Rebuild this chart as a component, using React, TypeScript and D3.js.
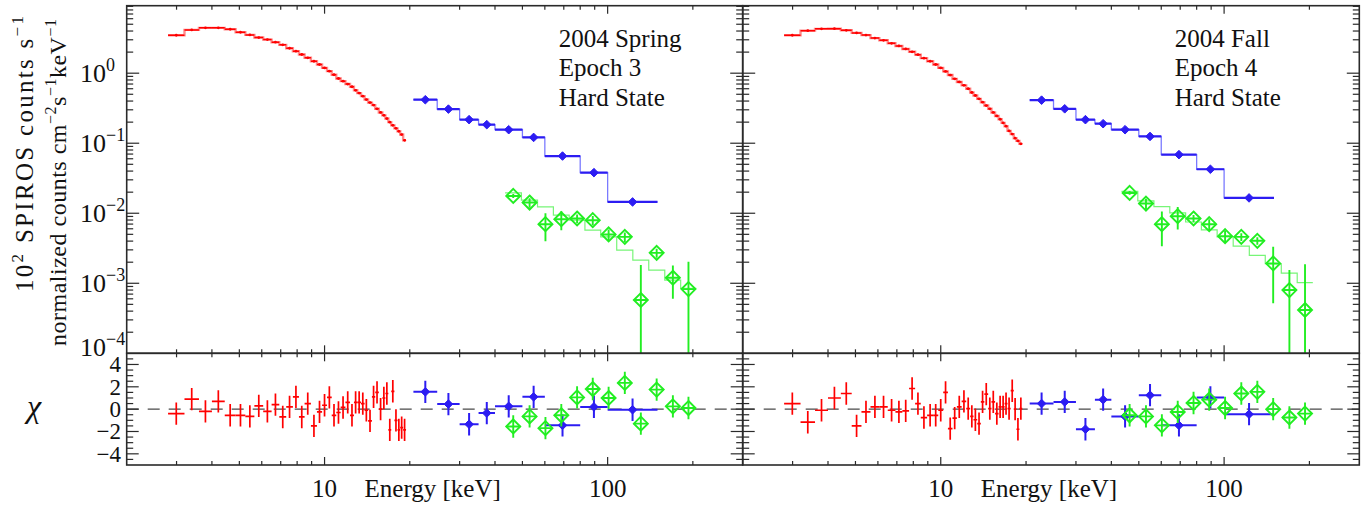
import React from 'react';
import * as d3 from 'd3';

// ---------------- DATA ----------------
// JEM-X-like (red) channel edges, keV
const redEdges = [2.8, 3.2, 3.6, 4.0, 4.44, 4.85, 5.25, 5.65, 6.07, 6.5, 6.92, 7.32, 7.73, 8.12, 8.5, 8.95, 9.4, 9.8, 10.2, 10.6, 11.0, 11.4, 11.85, 12.3, 12.7, 13.05, 13.45, 13.85, 14.25, 14.7, 15.1, 15.55, 16.0, 16.4, 16.8, 17.2, 17.65, 18.1, 18.5, 18.95, 19.4];
const redFluxSpring = [3.48, 4.15, 4.44, 4.44, 4.24, 3.84, 3.52, 3.23, 3.02, 2.77, 2.54, 2.27, 2.06, 1.85, 1.66, 1.48, 1.33, 1.19, 1.07, 0.95, 0.84, 0.77, 0.7, 0.64, 0.57, 0.52, 0.47, 0.42, 0.38, 0.35, 0.31, 0.275, 0.25, 0.225, 0.2, 0.18, 0.163, 0.148, 0.133, 0.11];
const redResSpring = [-0.4, 0.9, -0.2, 0.7, -0.55, -0.55, -0.65, 0.3, -0.2, 0.4, -0.7, 0.2, 1.1, -0.7, 0.5, -1.5, -0.25, 0.35, 1.05, -0.55, -0.3, 0.15, 0.6, -0.55, 0.6, 0.6, 0.5, -0.1, -1.05, 1.1, 1.5, 0, 1.0, 1.4, -1.85, 1.6, -1.0, -1.85, -1.65, -1.85];
const redFluxFall = [3.48, 4.05, 4.3, 4.32, 4.1, 3.76, 3.5, 3.17, 2.95, 2.67, 2.45, 2.22, 2.02, 1.84, 1.64, 1.48, 1.33, 1.19, 1.06, 0.94, 0.83, 0.75, 0.67, 0.6, 0.53, 0.48, 0.43, 0.385, 0.345, 0.31, 0.275, 0.245, 0.22, 0.195, 0.175, 0.15, 0.135, 0.118, 0.108, 0.098];
const redResFall = [0.5, -1.17, -0.1, 1.0, 1.4, -1.5, -0.25, 0.2, 0.2, -0.1, -0.25, -0.15, 1.85, 0.5, -0.75, -0.55, -0.55, -0.1, 1.5, -1.75, -0.8, 0.2, 0.7, 0.05, -0.65, -0.95, -1.3, 0.65, 1.35, 0.05, 0.65, -0.4, 0.2, 0.2, 0.5, 0.05, 1.65, 0, -1.8, 0.05];

// ISGRI-like (blue) bin edges, keV
const blueEdges = [20.6, 25, 30, 35, 40, 50, 60, 80, 100, 150];
const blueFluxSpring = [0.418, 0.307, 0.217, 0.184, 0.156, 0.121, 0.0656, 0.038, 0.0145];
const blueResSpring = [1.55, 0.45, -1.35, -0.35, 0.25, 1.1, -1.45, 0.2, -0.05];
const blueFluxFall = [0.412, 0.31, 0.217, 0.19, 0.156, 0.125, 0.0687, 0.0425, 0.01655];
const blueResFall = [0.5, 0.65, -1.8, 0.85, -0.65, 1.25, -1.45, 1.05, -0.45];

// SPI-like (green) channel centres, keV
const greenEnergy = [46.4, 53, 60.3, 68.6, 78, 88.6, 100.8, 115, 131, 149, 170, 193];
const greenFluxSpring = [0.01766, 0.01422, 0.00698, 0.00822, 0.00841, 0.00796, 0.00498, 0.0046, 0.000577, 0.00272, 0.0012, 0.000826];
const greenErrSpring = [0.0012, 0.0022, 0.003, 0.0025, 0.0012, 0.0012, 0.0009, 0.0007, 0.00124, 0.0004, 0.0006, 0.0012];
const greenModelSpring = [0.0195, 0.01535, 0.0123, 0.00937, 0.00795, 0.00573, 0.0046, 0.00297, 0.00214, 0.00154, 0.00111, 0.000845];
const greenResSpring = [-1.55, -0.65, -1.7, -0.55, 1.05, 1.8, 1.0, 2.35, -1.3, 1.75, 0.25, 0.1];
const greenFluxFall = [0.0195, 0.01375, 0.00698, 0.00908, 0.00841, 0.00698, 0.00471, 0.0046, 0.00404, 0.00192, 0.0008, 0.000415];
const greenErrFall = [0.0012, 0.0024, 0.0036, 0.0032, 0.001, 0.0012, 0.0009, 0.0006, 0.0005, 0.0014, 0.00075, 0.00145];
const greenModelFall = [0.0205, 0.015, 0.0124, 0.0101, 0.0075, 0.0058, 0.0046, 0.0034, 0.0025, 0.0019, 0.0014, 0.00102];
const greenResFall = [-0.55, -0.65, -1.45, -0.25, 0.55, 0.85, 0.1, 1.4, 1.55, 0, -0.75, -0.4];

// axis labels
const yExpLabels = ['−4', '−3', '−2', '−1', '0'];
const yExpValues = [1e-4, 1e-3, 1e-2, 1e-1, 1];
const resTickValues = [-4, -2, 0, 2, 4];
const resTickLabels = ['−4', '−2', '0', '2', '4'];
const xTickValues = [10, 100];
const xTickLabels = ['10', '100'];
const xTitle = 'Energy [keV]';
const springText = ['2004 Spring', 'Epoch 3', 'Hard State'];
const fallText = ['2004 Fall', 'Epoch 4', 'Hard State'];

// ---------------- STYLE / LAYOUT ----------------
const FONT = "'Liberation Serif', 'Times New Roman', Times, serif";
const RED = '#ff0000';
const RED_M = '#ff8c8c';
const BLUE = '#2c1cf2';
const BLUE_M = '#7a7aff';
const GREEN = '#22ee22';
const GREEN_M = '#77f577';
const AX = '#2a2a2a';
const TXT = '#111';

const Y_UT = 5.7;
const Y_UB = 353.3;
const Y_LT = 353.3;
const Y_LB = 465;

type PanelData = {
  redFlux: number[]; redRes: number[];
  blueFlux: number[]; blueRes: number[];
  greenFlux: number[]; greenErr: number[]; greenModel: number[]; greenRes: number[];
  text: string[];
};

function stepPath(edges: number[], vals: number[], x: (v: number) => number, y: (v: number) => number) {
  let p = `M${x(edges[0])},${y(vals[0])}`;
  for (let i = 0; i < vals.length; i++) {
    if (i > 0) p += `V${y(vals[i])}`;
    p += `H${x(edges[i + 1])}`;
  }
  return p;
}

function diamond(cx: number, cy: number, r: number) {
  return `M${cx},${cy - r}L${cx + r},${cy}L${cx},${cy + r}L${cx - r},${cy}Z`;
}

function Panel({ x0, x1, data, showLabels, id }: { x0: number; x1: number; data: PanelData; showLabels: boolean; id: string }) {
  const x = d3.scaleLog().domain([2, 300]).range([x0, x1]);
  const yU = d3.scaleLog().domain([1e-4, 9.2]).range([Y_UB, Y_UT]);
  const yL = d3.scaleLinear().domain([-5, 5]).range([Y_LB, Y_LT]);

  // green edges: geometric midpoints between channel centres
  const gE = greenEnergy;
  const gEdges: number[] = [];
  gEdges.push(gE[0] / Math.sqrt(gE[1] / gE[0]));
  for (let i = 0; i < gE.length - 1; i++) gEdges.push(Math.sqrt(gE[i] * gE[i + 1]));
  gEdges.push(gE[gE.length - 1] * Math.sqrt(gE[gE.length - 1] / gE[gE.length - 2]));

  const redC = data.redFlux.map((_, i) => Math.sqrt(redEdges[i] * redEdges[i + 1]));
  const blueC = data.blueFlux.map((_, i) => Math.sqrt(blueEdges[i] * blueEdges[i + 1]));

  const xTicks = x.ticks();
  const yTicks = yU.ticks();
  const rTicks = yL.ticks(20);

  const isDecade = (v: number) => Math.abs(Math.log10(v) - Math.round(Math.log10(v))) < 1e-6;

  const tickEls: React.ReactNode[] = [];
  xTicks.forEach((v, i) => {
    const xx = x(v);
    if (xx <= x0 + 0.5 || xx >= x1 - 0.5) return;
    const L = isDecade(v) ? 8 : 4;
    tickEls.push(<line key={`xt${i}`} x1={xx} x2={xx} y1={Y_UT} y2={Y_UT + L} />);
    tickEls.push(<line key={`xb${i}`} x1={xx} x2={xx} y1={Y_UB} y2={Y_UB - L} />);
    tickEls.push(<line key={`xlt${i}`} x1={xx} x2={xx} y1={Y_LT} y2={Y_LT + L} />);
    tickEls.push(<line key={`xlb${i}`} x1={xx} x2={xx} y1={Y_LB} y2={Y_LB - L} />);
  });
  yTicks.forEach((v, i) => {
    const yy = yU(v);
    if (yy >= Y_UB - 0.5 || yy <= Y_UT + 0.5) return;
    const L = isDecade(v) ? 12.5 : 6.5;
    tickEls.push(<line key={`yl${i}`} x1={x0} x2={x0 + L} y1={yy} y2={yy} />);
    tickEls.push(<line key={`yr${i}`} x1={x1} x2={x1 - L} y1={yy} y2={yy} />);
  });
  rTicks.forEach((v, i) => {
    const yy = yL(v);
    if (yy >= Y_LB - 0.5 || yy <= Y_LT + 0.5) return;
    const L = resTickValues.includes(v) ? 12 : 6.5;
    tickEls.push(<line key={`rl${i}`} x1={x0} x2={x0 + L} y1={yy} y2={yy} />);
    tickEls.push(<line key={`rr${i}`} x1={x1} x2={x1 - L} y1={yy} y2={yy} />);
  });

  const cu = `cu${id}`;
  const cl = `cl${id}`;

  return (
    <g>
      <defs>
        <clipPath id={cu}><rect x={x0} y={Y_UT} width={x1 - x0} height={Y_UB - Y_UT} /></clipPath>
        <clipPath id={cl}><rect x={x0} y={Y_LT} width={x1 - x0} height={Y_LB - Y_LT} /></clipPath>
      </defs>

      {/* ---------- upper spectrum ---------- */}
      <g clipPath={`url(#${cu})`}>
        <path d={stepPath(redEdges, data.redFlux, x, yU)} fill="none" stroke={RED_M} strokeWidth={2.4} />
        {data.redFlux.map((v, i) => (
          <g key={`ru${i}`}>
            <line x1={x(redEdges[i])} x2={x(redEdges[i + 1])} y1={yU(v)} y2={yU(v)} stroke={RED} strokeWidth={1.5} />
            <circle cx={x(redC[i])} cy={yU(v)} r={1.4} fill={RED} />
          </g>
        ))}
        <path d={stepPath(blueEdges, data.blueFlux, x, yU)} fill="none" stroke={BLUE_M} strokeWidth={1.3} />
        {data.blueFlux.map((v, i) => (
          <g key={`bu${i}`}>
            <line x1={x(blueEdges[i])} x2={x(blueEdges[i + 1])} y1={yU(v)} y2={yU(v)} stroke={BLUE} strokeWidth={2.2} />
            <path d={diamond(x(blueC[i]), yU(v), 4.3)} fill={BLUE} stroke={BLUE} strokeWidth={1} />
          </g>
        ))}
        <path d={stepPath(gEdges, data.greenModel, x, yU)} fill="none" stroke={GREEN_M} strokeWidth={1.2} />
        {data.greenFlux.map((v, i) => {
          const lo = v - data.greenErr[i];
          const yLo = lo > 0 ? yU(lo) : Y_UB + 5;
          const cx = x(gE[i]);
          const cy = yU(v);
          return (
            <g key={`gu${i}`} stroke={GREEN} strokeWidth={1.9} fill="none">
              <line x1={cx} x2={cx} y1={yU(v + data.greenErr[i])} y2={yLo} />
              <line x1={x(gEdges[i]) + 1} x2={x(gEdges[i + 1]) - 1} y1={cy} y2={cy} />
              <path d={diamond(cx, cy, 7)} />
            </g>
          );
        })}
      </g>

      {/* ---------- residuals ---------- */}
      <line x1={x0} x2={x1} y1={yL(0)} y2={yL(0)} stroke="#4a4a4a" strokeWidth={1.4} strokeDasharray="12,9" />
      <g clipPath={`url(#${cl})`}>
        {data.redRes.map((r, i) => (
          <g key={`rr${i}`} stroke={RED} strokeWidth={1.7}>
            <line x1={x(redEdges[i])} x2={x(redEdges[i + 1])} y1={yL(r)} y2={yL(r)} />
            <line x1={x(redC[i])} x2={x(redC[i])} y1={yL(r - 1)} y2={yL(r + 1)} />
          </g>
        ))}
        {data.blueRes.map((r, i) => (
          <g key={`br${i}`} stroke={BLUE} strokeWidth={2}>
            <line x1={x(blueEdges[i])} x2={x(blueEdges[i + 1])} y1={yL(r)} y2={yL(r)} />
            <line x1={x(blueC[i])} x2={x(blueC[i])} y1={yL(r - 1)} y2={yL(r + 1)} />
            <path d={diamond(x(blueC[i]), yL(r), 4.3)} fill={BLUE} strokeWidth={1} />
          </g>
        ))}
        {data.greenRes.map((r, i) => {
          const cx = x(gE[i]);
          const cy = yL(r);
          return (
            <g key={`gr${i}`} stroke={GREEN} strokeWidth={1.9} fill="none">
              <line x1={cx} x2={cx} y1={yL(r - 1)} y2={yL(r + 1)} />
              <line x1={x(gEdges[i]) + 1} x2={x(gEdges[i + 1]) - 1} y1={cy} y2={cy} />
              <path d={diamond(cx, cy, 7)} />
            </g>
          );
        })}
      </g>

      {/* ---------- ticks & frame ---------- */}
      <g stroke={AX} strokeWidth={1.2}>{tickEls}</g>
      <rect x={x0} y={Y_UT} width={x1 - x0} height={Y_UB - Y_UT} fill="none" stroke={AX} strokeWidth={1.6} />
      <rect x={x0} y={Y_LT} width={x1 - x0} height={Y_LB - Y_LT} fill="none" stroke={AX} strokeWidth={1.6} />

      {/* ---------- labels ---------- */}
      {showLabels && yExpValues.map((v, i) => (
        <text key={`yl${i}`} x={80} y={yU(v) + (i === 0 ? 3 : 9)} fontSize={26} fontFamily={FONT} fill={TXT}>
          10<tspan fontSize={18} dy={-11}>{yExpLabels[i]}</tspan>
        </text>
      ))}
      {showLabels && resTickValues.map((v, i) => (
        <text key={`rl${i}`} x={121} y={yL(v) + 8} fontSize={23} textAnchor="end" fontFamily={FONT} fill={TXT}>{resTickLabels[i]}</text>
      ))}
      {xTickValues.map((v, i) => (
        <text key={`xl${i}`} x={x(v)} y={497} fontSize={25} textAnchor="middle" fontFamily={FONT} fill={TXT}>{xTickLabels[i]}</text>
      ))}
      <text x={(x0 + x1) / 2 - 2} y={497} fontSize={25} textAnchor="middle" fontFamily={FONT} fill={TXT}>{xTitle}</text>
      {data.text.map((t, i) => (
        <text key={`an${i}`} x={x0 + 432} y={46.7 + i * 29.7} fontSize={25} fontFamily={FONT} fill={TXT}>{t}</text>
      ))}
    </g>
  );
}

export default function App() {
  const spring: PanelData = {
    redFlux: redFluxSpring, redRes: redResSpring,
    blueFlux: blueFluxSpring, blueRes: blueResSpring,
    greenFlux: greenFluxSpring, greenErr: greenErrSpring, greenModel: greenModelSpring, greenRes: greenResSpring,
    text: springText,
  };
  const fall: PanelData = {
    redFlux: redFluxFall, redRes: redResFall,
    blueFlux: blueFluxFall, blueRes: blueResFall,
    greenFlux: greenFluxFall, greenErr: greenErrFall, greenModel: greenModelFall, greenRes: greenResFall,
    text: fallText,
  };
  return (
    <svg width={1372} height={508} viewBox="0 0 1372 508" style={{ position: 'absolute', left: 0, top: 0, background: '#fff' }}>
      <rect x={0} y={0} width={1372} height={508} fill="#fff" />
      <Panel x0={126.7} x1={742.7} data={spring} showLabels={true} id="a" />
      <Panel x0={742.7} x1={1359.3} data={fall} showLabels={false} id="b" />
      <text transform="translate(33,154) rotate(-90)" fontSize={25} textAnchor="middle" fontFamily={FONT} fill={TXT}
        textLength={276} lengthAdjust="spacing">
        10<tspan fontSize={17} dy={-10}>2</tspan><tspan dy={10}> SPIROS counts s</tspan><tspan fontSize={17} dy={-10}>−1</tspan>
      </text>
      <text transform="translate(66,182.5) rotate(-90)" fontSize={24} textAnchor="middle" fontFamily={FONT} fill={TXT}
        textLength={327} lengthAdjust="spacing">
        normalized counts cm<tspan fontSize={16} dy={-10}>−2</tspan><tspan dy={10}>s</tspan><tspan fontSize={16} dy={-10}>−1</tspan><tspan dy={10}>keV</tspan><tspan fontSize={16} dy={-10}>−1</tspan>
      </text>
      <text x={34} y={417} fontSize={32} fontStyle="italic" textAnchor="middle" fontFamily={FONT} fill={TXT}>χ</text>
    </svg>
  );
}
